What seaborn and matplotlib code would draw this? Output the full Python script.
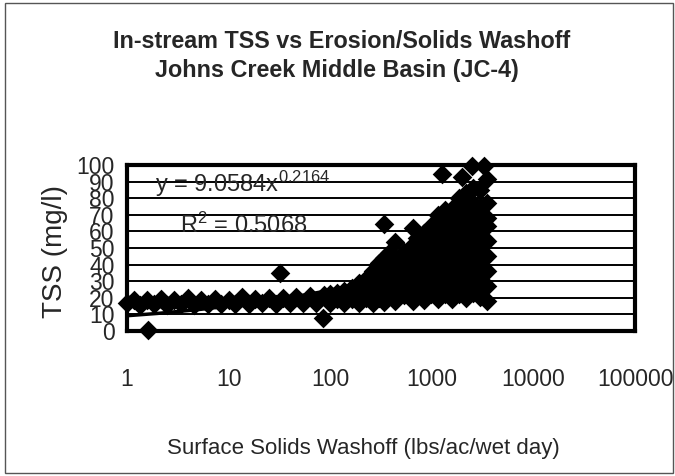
import matplotlib
matplotlib.use('Agg')
import pandas as pd
import matplotlib.pyplot as plt
import seaborn as sns
from matplotlib.patches import Rectangle
from matplotlib.ticker import NullLocator

# ── values ─────────────────────────────────────────
# dense low band (x 1 - 100)
band_x = [1.0, 1.17, 1.36, 1.59, 1.85, 2.15, 2.5, 2.9, 3.4, 4.0, 4.6, 5.4, 6.3, 7.3, 8.5,
          10, 11.6, 13.5, 15.8, 18.4, 21.5, 25, 29, 34, 40, 46, 54, 63, 73, 86]
band_y = [16.5, 18.8, 15.6, 18.4, 15.9, 19.0, 15.5, 18.6, 16.0, 20.0, 15.8, 18.7, 16.1, 19.2, 16.3,
          18.9, 16.0, 20.3, 16.4, 19.1, 16.6, 19.6, 16.2, 20.0, 16.8, 20.5, 16.5, 21.0, 17.0, 21.4]

# rising part (x 100 - 280), points per x
rise_x = [100, 117, 138, 162, 190, 223, 262]
rise_y = [[16.5, 22], [19, 23], [16.5, 24], [19.5, 26], [17, 24, 29], [20, 26, 31], [17, 24, 31, 36]]

# main cloud (x 300 - 3600), points per x
blob_x = [300, 340, 383, 430, 526, 645, 722, 846, 991, 1161, 1270,
          1360, 1593, 1750, 1866, 1960, 2186, 2500, 2562, 3001, 3290, 3500]
blob_y = [[20, 28, 36, 41],
          [17.5, 26.5, 35.5, 44, 64.5],
          [21, 30, 39, 47],
          [18, 27, 36, 44, 53.5],
          [21.5, 30.5, 39.5, 47.5],
          [18, 27, 36, 45, 52, 62],
          [22, 31, 40, 49, 56],
          [18.5, 27.5, 36.5, 45.5, 54.5, 59],
          [22, 31, 40, 49, 58, 63],
          [19, 28, 37, 46, 55, 64, 70],
          [94.5],
          [22, 31, 40, 49, 58, 67, 73],
          [19.5, 28.5, 37.5, 46.5, 55.5, 64.5, 73.5],
          [76],
          [22.5, 31.5, 40.5, 49.5, 58.5, 67.5, 80],
          [92.7],
          [20, 29, 38, 47, 56, 65, 74, 83],
          [99.4],
          [23, 32, 41, 50, 59, 68, 77, 86],
          [20.5, 29.5, 38.5, 47.5, 56.5, 65.5, 74.5, 85],
          [99.4],
          [18, 27, 36, 45, 54, 63, 68, 77, 91.5]]

# stray points
odd_x = [1.6, 32, 85]
odd_y = [0.5, 35, 8]

# power trendline  y = 9.0584x^0.2164
trend_x = [1, 2, 5, 10, 20, 50, 100, 200, 500, 1000, 2000, 3600]
trend_y = [9.1, 10.5, 12.8, 14.9, 17.3, 21.1, 24.5, 28.5, 34.8, 40.4, 46.9, 53.3]

x_ticks = [1, 10, 100, 1000, 10000, 100000]
x_labels = ['1', '10', '100', '1000', '10000', '100000']
y_ticks = [0, 10, 20, 30, 40, 50, 60, 70, 80, 90, 100]

# ── build table ────────────────────────────────────
rows = [(x, y) for x, col in zip(rise_x + blob_x, rise_y + blob_y) for y in col]
df = pd.concat([pd.DataFrame({'x': band_x, 'y': band_y}),
                pd.DataFrame(rows, columns=['x', 'y']),
                pd.DataFrame({'x': odd_x, 'y': odd_y})], ignore_index=True)

# ── plot ───────────────────────────────────────────
sns.set_style('white')
plt.rcParams['font.family'] = ['Liberation Sans', 'DejaVu Sans']
plt.rcParams['mathtext.fontset'] = 'custom'
plt.rcParams['mathtext.rm'] = 'Liberation Sans'

fig = plt.figure(figsize=(6.75, 4.76), dpi=100)
ax = fig.add_axes([0.188, 0.305, 0.753, 0.348])

sns.scatterplot(data=df, x='x', y='y', marker='D', s=100, color='black', linewidth=0,
                ax=ax, clip_on=False, zorder=3, legend=False)
sns.lineplot(x=trend_x, y=trend_y, color='black', linewidth=2.5, estimator=None,
             sort=False, ax=ax, zorder=4)

ax.set_xscale('log')
ax.set_xlim(1, 100000)
ax.set_ylim(0, 100)
ax.set_xticks(x_ticks, labels=x_labels)
ax.xaxis.set_minor_locator(NullLocator())
ax.set_yticks(y_ticks, labels=[str(v) for v in y_ticks])
ax.yaxis.grid(True, color='black', linewidth=1.4)
ax.set_axisbelow(True)
for s in ax.spines.values():
    s.set_color('black')
    s.set_linewidth(3)
ax.tick_params(axis='x', direction='out', length=5, width=1.3, color='black', labelsize=16.5, pad=22)
ax.tick_params(axis='y', direction='out', length=5, width=1.3, color='black', labelsize=16.5, pad=4)

ax.set_xlabel('Surface Solids Washoff (lbs/ac/wet day)', fontsize=16)
ax.xaxis.label.set_va('center')
ax.xaxis.set_label_coords(0.465, -0.711)
ax.set_ylabel('TSS (mg/l)', fontsize=20)
ax.yaxis.label.set_va('center')
ax.yaxis.set_label_coords(-0.142, 0.48)

ax.text(0.055, 0.837, 'y = 9.0584x$\\mathregular{^{0.2164}}$', transform=ax.transAxes,
        fontsize=17, va='baseline', ha='left', zorder=1)
ax.text(0.104, 0.59, 'R$\\mathregular{^{2}}$ = 0.5068', transform=ax.transAxes,
        fontsize=17, va='baseline', ha='left', zorder=1)

fig.text(342 / 675, 1 - 41 / 476, 'In-stream TSS vs Erosion/Solids Washoff',
         ha='center', va='center', fontsize=16.8, fontweight='bold')
fig.text(337 / 675, 1 - 71 / 476, 'Johns Creek Middle Basin (JC-4)',
         ha='center', va='center', fontsize=16.8, fontweight='bold')

fig.patches.append(Rectangle((0.008, 0.006), 0.989, 0.988, transform=fig.transFigure,
                             fill=False, edgecolor='#555555', linewidth=1))

fig.savefig('out.png', dpi=100)
